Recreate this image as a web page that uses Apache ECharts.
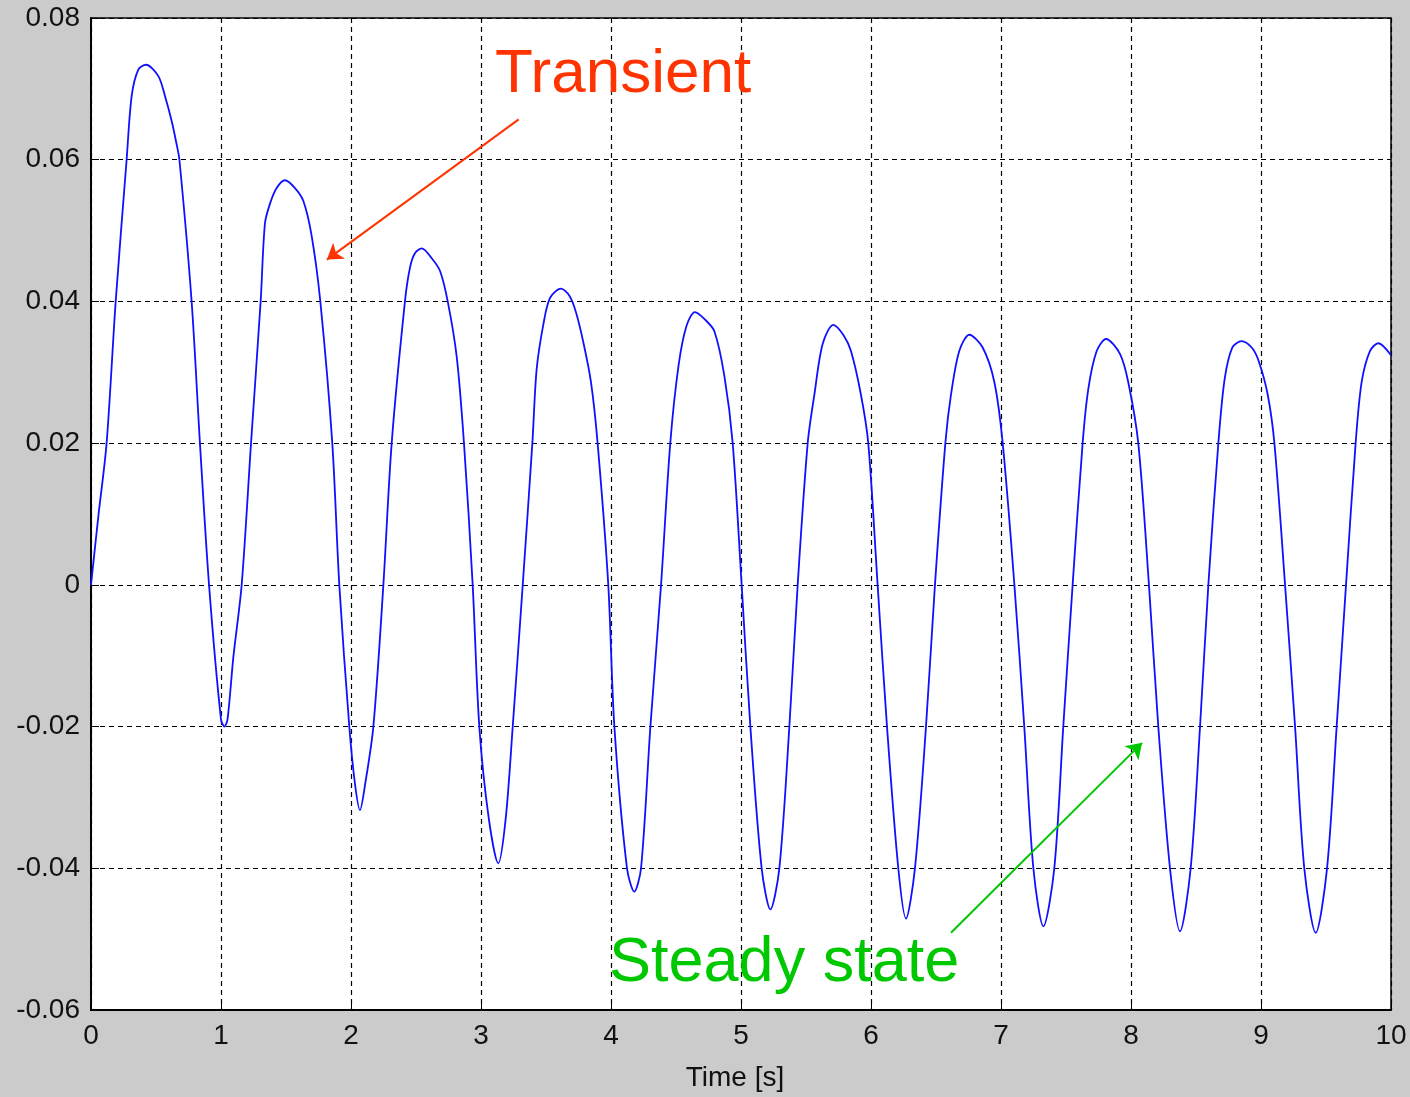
<!DOCTYPE html>
<html>
<head>
<meta charset="utf-8">
<title>Time response</title>
<script src="https://cdn.jsdelivr.net/npm/echarts@6/dist/echarts.min.js"></script>
<style>
  html, body { margin: 0; padding: 0; background: #cbcbcb; }
  #chart { width: 1410px; height: 1097px; }
</style>
</head>
<body>
<div id="chart"></div>
<script>
// readings taken off the plot: time [s] and response
const timeValues = [
  0.00, 0.056, 0.12, 0.19, 0.274, 0.313, 0.364, 0.423, 0.518, 0.569, 0.62, 0.655, 0.68, 0.774, 0.838, 0.908,
  1.00, 1.026, 1.05, 1.095, 1.159, 1.231, 1.305, 1.338, 1.377, 1.428, 1.492, 1.569, 1.633, 1.697, 1.764, 1.856, 1.91,
  1.987, 2.03, 2.069, 2.11, 2.172, 2.249, 2.313, 2.415, 2.454, 2.492, 2.544, 2.621, 2.685, 2.744, 2.813, 2.869, 2.936,
  2.987, 3.06, 3.133, 3.19, 3.244, 3.321, 3.395, 3.428, 3.479, 3.531, 3.615, 3.68, 3.73, 3.79, 3.846, 3.897, 3.979,
  4.026, 4.123, 4.179, 4.231, 4.303, 4.385, 4.456, 4.52, 4.58, 4.646, 4.72, 4.795, 4.872, 4.936, 5.005,
  5.072, 5.159, 5.226, 5.295, 5.372, 5.436, 5.513, 5.564, 5.628, 5.71, 5.79, 5.846, 5.923, 5.979, 6.051,
  6.123, 6.21, 6.269, 6.338, 6.423, 6.492, 6.572, 6.615, 6.679, 6.756, 6.859, 6.949, 7.013, 7.103,
  7.179, 7.249, 7.326, 7.41, 7.479, 7.551, 7.628, 7.672, 7.736, 7.808, 7.915, 7.979, 8.056, 8.138,
  8.21, 8.30, 8.377, 8.459, 8.531, 8.595, 8.672, 8.72, 8.78, 8.851, 8.928, 8.98, 9.05, 9.103, 9.185,
  9.262, 9.333, 9.421, 9.508, 9.582, 9.654, 9.728, 9.774, 9.838, 9.903, 10.0
];
const signalValues = [
  0.000, 0.0096, 0.020, 0.040, 0.060, 0.069, 0.0727, 0.0734, 0.0718, 0.069, 0.0655, 0.0625, 0.060, 0.040, 0.020, 0.000,
  -0.019, -0.0200, -0.019, -0.0102, 0.000, 0.020, 0.040, 0.051, 0.0538, 0.056, 0.0571, 0.056, 0.0542, 0.0493, 0.040, 0.020, 0.000,
  -0.020, -0.028, -0.0318, -0.028, -0.020, 0.000, 0.020, 0.040, 0.0448, 0.0468, 0.0475, 0.0461, 0.0443, 0.040, 0.0322, 0.020, 0.000,
  -0.020, -0.033, -0.0393, -0.033, -0.020, 0.000, 0.020, 0.0304, 0.0367, 0.0405, 0.0418, 0.0408, 0.0385, 0.034, 0.0286, 0.020, 0.000,
  -0.020, -0.040, -0.0433, -0.040, -0.020, 0.000, 0.020, 0.031, 0.0365, 0.0385, 0.0375, 0.0358, 0.0295, 0.020, 0.000,
  -0.020, -0.040, -0.0458, -0.040, -0.020, 0.000, 0.020, 0.0268, 0.034, 0.0367, 0.0352, 0.033, 0.0268, 0.020, 0.000,
  -0.020, -0.040, -0.0471, -0.040, -0.020, 0.000, 0.020, 0.0268, 0.033, 0.0353, 0.0335, 0.0286, 0.020, 0.000,
  -0.020, -0.040, -0.0482, -0.040, -0.020, 0.000, 0.020, 0.0277, 0.033, 0.0347, 0.0326, 0.0286, 0.020, 0.000,
  -0.020, -0.040, -0.0489, -0.040, -0.020, 0.000, 0.020, 0.029, 0.0335, 0.0344, 0.0335, 0.0317, 0.027, 0.020, 0.000,
  -0.020, -0.040, -0.0491, -0.040, -0.020, 0.000, 0.020, 0.0286, 0.033, 0.0341, 0.0324
];
const xTicks = [0, 1, 2, 3, 4, 5, 6, 7, 8, 9, 10];
const yTicks = [-0.06, -0.04, -0.02, 0, 0.02, 0.04, 0.06, 0.08];

// arrow end points, in data units
const transientArrow = [[3.29, 0.0657], [1.815, 0.0459]];
const steadyArrow = [[6.615, -0.0491], [8.085, -0.0223]];

const chart = echarts.init(document.getElementById('chart'));

const gridDash = { color: '#000', width: 1.2, type: [5, 4] };
const tickFont = { fontFamily: 'Liberation Sans', fontSize: 28, color: '#111' };

const option = {
    backgroundColor: '#cbcbcb',
    animation: false,
    grid: {
        left: 91, top: 18, right: 19, bottom: 85,
        show: true, backgroundColor: '#fff', borderColor: '#000', borderWidth: 1.5
    },
    xAxis: {
        type: 'value',
        min: 0, max: 10, interval: 1,
        name: 'Time [s]',
        nameLocation: 'middle',
        nameGap: 54,
        nameTextStyle: { fontFamily: 'Liberation Sans', fontSize: 28, color: '#111', padding: [0, 12, 0, 0] },
        axisLine: { onZero: false, lineStyle: { color: '#000', width: 2 } },
        axisTick: { inside: true, length: 8, lineStyle: { color: '#000' } },
        axisLabel: Object.assign({ margin: 12, formatter: v => xTicks.includes(v) ? String(v) : '' }, tickFont),
        splitLine: { show: true, lineStyle: gridDash }
    },
    yAxis: {
        type: 'value',
        min: -0.06, max: 0.08, interval: 0.02,
        axisLine: { onZero: false, lineStyle: { color: '#000', width: 2 } },
        axisTick: { inside: true, length: 8, lineStyle: { color: '#000' } },
        axisLabel: Object.assign({
            margin: 11,
            formatter: v => {
                const t = yTicks.find(y => Math.abs(y - v) < 1e-9);
                return t === undefined ? '' : (t === 0 ? '0' : t.toFixed(2));
            }
        }, tickFont),
        splitLine: { show: true, lineStyle: gridDash }
    },
    series: [{
        type: 'line',
        data: timeValues.map((t, i) => [t, signalValues[i]]),
        showSymbol: false,
        smooth: 0.3,
        lineStyle: { color: '#1010ff', width: 1.8 },
        markLine: {
            silent: true,
            symbol: ['none', 'arrow'],
            symbolSize: 15,
            label: { show: false },
            data: [
                [
                    { coord: transientArrow[0], lineStyle: { color: '#ff3300', width: 2, type: 'solid' }, itemStyle: { color: '#ff3300' } },
                    { coord: transientArrow[1], lineStyle: { color: '#ff3300', width: 2, type: 'solid' }, itemStyle: { color: '#ff3300' } }
                ],
                [
                    { coord: steadyArrow[0], lineStyle: { color: '#00c800', width: 2, type: 'solid' }, itemStyle: { color: '#00c800' } },
                    { coord: steadyArrow[1], lineStyle: { color: '#00c800', width: 2, type: 'solid' }, itemStyle: { color: '#00c800' } }
                ]
            ]
        }
    }],
    graphic: [
        {
            type: 'text', left: 495, top: 44, z: 100,
            style: { text: 'Transient', fill: '#ff3300', font: '62px "Liberation Sans"' }
        },
        {
            type: 'text', left: 609, top: 932, z: 100,
            style: { text: 'Steady state', fill: '#00c800', font: '63px "Liberation Sans"' }
        }
    ]
};

chart.setOption(option);
</script>
</body>
</html>
